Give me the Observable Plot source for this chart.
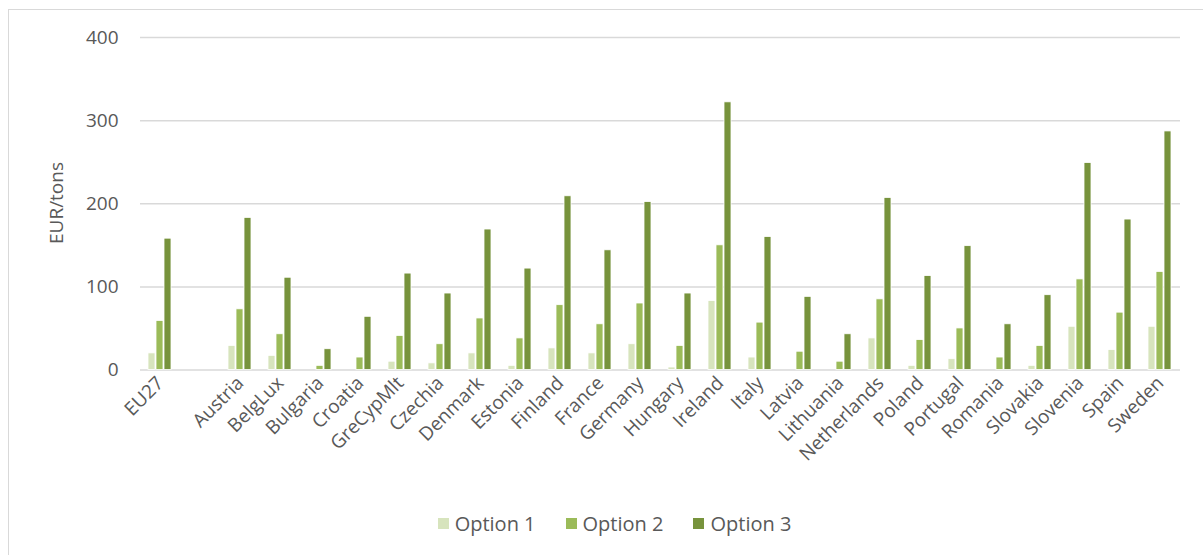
<!DOCTYPE html>
<html>
<head>
<meta charset="utf-8">
<script src="https://cdn.jsdelivr.net/npm/d3@7"></script>
<script src="https://cdn.jsdelivr.net/npm/@observablehq/plot@0.6"></script>
<style>
  html, body { margin: 0; padding: 0; background: #fff; overflow: hidden; width: 1203px; height: 555px; }
  #wrap { position: relative; width: 1203px; height: 555px; font-family: "Open Sans", sans-serif; }
  #frame { position: absolute; left: 8px; top: 9px; width: 1300px; height: 700px; border: 1px solid #d9d9d9; box-sizing: border-box; }
  #chart { position: absolute; left: 0; top: 0; }
  #legend { position: absolute; top: 510px; left: 0; width: 1203px; display: flex; justify-content: center; gap: 30px; font-size: 20px; color: #595959; padding-left: 26px; box-sizing: border-box; }
  .item { display: flex; align-items: center; gap: 6px; }
  .sw { width: 11px; height: 11px; display: inline-block; }
</style>
</head>
<body>
<div id="wrap">
  <div id="frame"></div>
  <div id="chart"></div>
  <div id="legend"></div>
</div>
<script>
const categories = ["EU27", "", "Austria", "BelgLux", "Bulgaria", "Croatia", "GreCypMlt", "Czechia", "Denmark", "Estonia", "Finland", "France", "Germany", "Hungary", "Ireland", "Italy", "Latvia", "Lithuania", "Netherlands", "Poland", "Portugal", "Romania", "Slovakia", "Slovenia", "Spain", "Sweden"];
const seriesNames = ["Option 1", "Option 2", "Option 3"];
const seriesColors = ["#d7e4bd", "#9bbb59", "#77933c"];
const option1 = [20, null, 29, 17, 0, 0, 10, 8, 20, 5, 26, 20, 31, 3, 83, 15, 0, 0, 38, 5, 13, 0, 5, 52, 24, 52];
const option2 = [59, null, 73, 43, 5, 15, 41, 31, 62, 38, 78, 55, 80, 29, 150, 57, 22, 10, 85, 36, 50, 15, 29, 109, 69, 118];
const option3 = [158, null, 183, 111, 25, 64, 116, 92, 169, 122, 209, 144, 202, 92, 322, 160, 88, 43, 207, 113, 149, 55, 90, 249, 181, 287];
const yTicks = [0, 100, 200, 300, 400];
const yLabel = "EUR/tons";

const allSeries = [option1, option2, option3];
const data = [];
categories.forEach((c, i) => {
  allSeries.forEach((s, k) => {
    if (s[i] !== null) data.push({country: c, option: seriesNames[k], value: s[i]});
  });
});
// gridlines drawn in every facet (keeps the blank category facet present)
const grid = [];
categories.forEach(c => yTicks.forEach(t => grid.push({country: c, tick: t})));

const chart = Plot.plot({
  width: 1203,
  height: 500,
  marginTop: 37,
  marginBottom: 130.5,
  marginLeft: 137,
  marginRight: 20,
  style: {fontFamily: "Open Sans, sans-serif", fontSize: "19px", color: "#595959", background: "transparent"},
  fx: {domain: categories, padding: 0, label: null, tickRotate: -45, tickSize: 0, tickPadding: 10},
  x: {domain: seriesNames, paddingInner: 0.12, paddingOuter: 0.8, axis: null},
  y: {domain: [0, 400], ticks: yTicks, label: null, tickSize: 0, tickPadding: 22},
  color: {domain: seriesNames, range: seriesColors},
  marks: [
    Plot.ruleY(grid, {fx: "country", y: "tick", stroke: "#d9d9d9", strokeWidth: 1.5}),
    Plot.barY(data, {fx: "country", x: "option", y: "value", fill: "option", stroke: "#ffffff", strokeWidth: 0.8})
  ]
});
document.getElementById("chart").appendChild(chart);

// y-axis title
const svg = d3.select(chart);
svg.append("text")
  .attr("transform", "translate(58,203) rotate(-90)")
  .attr("text-anchor", "middle")
  .attr("dominant-baseline", "middle")
  .attr("fill", "#595959")
  .style("font-size", "19px")
  .text(yLabel);

const legend = document.getElementById("legend");
seriesNames.forEach((n, k) => {
  const it = document.createElement("div");
  it.className = "item";
  const sw = document.createElement("span");
  sw.className = "sw";
  sw.style.background = seriesColors[k];
  const t = document.createElement("span");
  t.textContent = n;
  it.appendChild(sw); it.appendChild(t);
  legend.appendChild(it);
});
</script>
</body>
</html>
